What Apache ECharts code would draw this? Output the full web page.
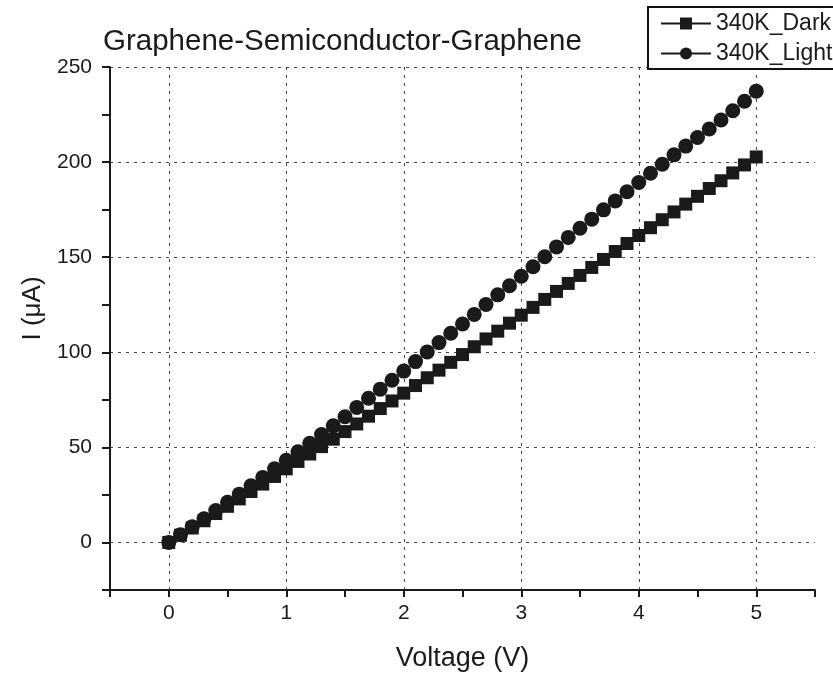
<!DOCTYPE html>
<html>
<head>
<meta charset="utf-8">
<title>Graphene-Semiconductor-Graphene</title>
<script src="https://cdn.jsdelivr.net/npm/echarts@6/dist/echarts.min.js"></script>
<style>
  html, body { margin: 0; padding: 0; background: #fff; }
  #chart { width: 833px; height: 679px; }
</style>
</head>
<body>
<div id="chart"></div>
<script>
// Bias voltage sweep (V), 0.1 V steps
const voltage = [
  0.0, 0.1, 0.2, 0.3, 0.4, 0.5, 0.6, 0.7, 0.8, 0.9,
  1.0, 1.1, 1.2, 1.3, 1.4, 1.5, 1.6, 1.7, 1.8, 1.9,
  2.0, 2.1, 2.2, 2.3, 2.4, 2.5, 2.6, 2.7, 2.8, 2.9,
  3.0, 3.1, 3.2, 3.3, 3.4, 3.5, 3.6, 3.7, 3.8, 3.9,
  4.0, 4.1, 4.2, 4.3, 4.4, 4.5, 4.6, 4.7, 4.8, 4.9,
  5.0
];

// Current (µA) at 340 K without illumination
const darkCurrent = [
  0.0, 3.8, 7.6, 11.4, 15.2, 19.0, 22.9, 26.8, 30.7, 34.7,
  38.7, 42.6, 46.5, 50.4, 54.3, 58.3, 62.3, 66.4, 70.4, 74.4,
  78.5, 82.5, 86.6, 90.6, 94.7, 98.8, 102.9, 107.0, 111.1, 115.3,
  119.5, 123.6, 127.8, 132.0, 136.2, 140.4, 144.6, 148.8, 153.0, 157.2,
  161.4, 165.5, 169.7, 173.8, 177.9, 182.0, 186.1, 190.2, 194.3, 198.5,
  202.7
];

// Current (µA) at 340 K under illumination
const lightCurrent = [
  0.0, 4.1, 8.3, 12.5, 16.8, 21.1, 25.4, 29.8, 34.2, 38.7,
  43.2, 47.7, 52.2, 56.7, 61.3, 66.1, 71.0, 75.8, 80.6, 85.3,
  90.1, 95.1, 100.2, 105.1, 110.0, 114.9, 119.9, 125.1, 130.2, 135.0,
  140.0, 145.0, 150.2, 155.4, 160.4, 165.2, 170.0, 174.9, 179.6, 184.4,
  189.3, 194.1, 198.9, 203.8, 208.4, 212.9, 217.4, 222.1, 227.0, 232.0,
  237.3
];

const seriesNames = ['340K_Dark', '340K_Light'];
const chartTitle = 'Graphene-Semiconductor-Graphene';
const xAxisTitle = 'Voltage (V)';
const yAxisTitle = 'I (\u03BCA)';

// Axis ranges; ticks every half step, labels and grid only on whole steps
const xRange = [-0.5, 5.5];
const xStep = 0.5;
const yRange = [-25, 250];
const yStep = 25;

const FONT = '"Liberation Sans", Arial, sans-serif';
const INK = '#1a1a1a';

const pairs = (xs, ys) => xs.map((x, i) => [x, ys[i]]);
const isMultiple = (v, m) => Math.abs(v / m - Math.round(v / m)) < 1e-6;

// Alternate transparent / dotted so only every second split line shows
const gridLine = {
  show: true,
  lineStyle: { color: ['rgba(0,0,0,0)', '#444'], type: [3, 5], width: 1 }
};

const chart = echarts.init(document.getElementById('chart'), null, { renderer: 'canvas' });

chart.setOption({
  backgroundColor: '#ffffff',
  animation: false,
  title: {
    text: chartTitle,
    left: 98,
    top: 22,
    textStyle: { fontFamily: FONT, fontSize: 29.5, fontWeight: 'normal', color: INK }
  },
  legend: {
    left: 648,
    top: 7,
    orient: 'vertical',
    itemGap: 7,
    itemWidth: 50,
    itemHeight: 15,
    padding: [5, 10, 4, 12],
    borderColor: '#111',
    borderWidth: 2,
    backgroundColor: '#fff',
    textStyle: { fontFamily: FONT, fontSize: 23, color: INK },
    data: seriesNames
  },
  grid: { left: 110, right: 18, top: 67, bottom: 89, containLabel: false },
  xAxis: {
    type: 'value',
    min: xRange[0],
    max: xRange[1],
    interval: xStep,
    name: xAxisTitle,
    nameLocation: 'middle',
    nameGap: 55,
    nameTextStyle: { fontFamily: FONT, fontSize: 27, color: INK },
    axisLine: { onZero: false, lineStyle: { color: INK, width: 2 } },
    axisTick: { show: true, length: 7, lineStyle: { color: INK, width: 2 } },
    axisLabel: {
      margin: 13,
      fontFamily: FONT,
      fontSize: 21,
      color: INK,
      formatter: v => (isMultiple(v, 1) ? String(Math.round(v)) : '')
    },
    splitLine: gridLine
  },
  yAxis: {
    type: 'value',
    min: yRange[0],
    max: yRange[1],
    interval: yStep,
    name: yAxisTitle,
    nameLocation: 'middle',
    nameGap: 62,
    nameRotate: 90,
    nameTextStyle: { fontFamily: FONT, fontSize: 26, color: INK, padding: [0, 0, 0, 40] },
    axisLine: { onZero: false, lineStyle: { color: INK, width: 2 } },
    axisTick: { show: true, length: 8, lineStyle: { color: INK, width: 2 } },
    axisLabel: {
      margin: 18,
      fontFamily: FONT,
      fontSize: 21,
      color: INK,
      formatter: v => (isMultiple(v, 50) ? String(Math.round(v)) : '')
    },
    splitLine: gridLine
  },
  series: [
    {
      name: seriesNames[1],
      type: 'line',
      data: pairs(voltage, lightCurrent),
      symbol: 'circle',
      symbolSize: 15,
      itemStyle: { color: INK },
      lineStyle: { color: INK, width: 1 },
      z: 3
    },
    {
      name: seriesNames[0],
      type: 'line',
      data: pairs(voltage, darkCurrent),
      symbol: 'rect',
      symbolSize: 13,
      itemStyle: { color: INK },
      lineStyle: { color: INK, width: 1 },
      z: 4
    }
  ]
});
</script>
</body>
</html>
